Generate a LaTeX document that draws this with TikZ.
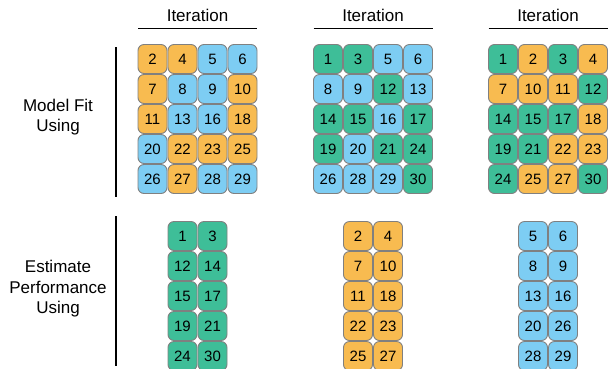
\documentclass[tikz,border=0pt]{standalone}
\usepackage{fontspec}
\setmainfont{Liberation Sans}
\usepackage{xcolor}
\usepackage{tikz}
\usetikzlibrary{positioning}

\definecolor{tileO}{RGB}{248,187,80}
\definecolor{tileB}{RGB}{125,205,243}
\definecolor{tileG}{RGB}{62,190,152}
\definecolor{tileedge}{RGB}{128,128,128}

\begin{document}
\begin{tikzpicture}[
  x=1pt, y=-1pt,
  tile/.style={rectangle, draw=tileedge, line width=0.9pt, rounded corners=6pt, minimum size=29pt, inner sep=0pt, font=\fontsize{15}{15}\selectfont},
  head/.style={font=\fontsize{17}{17}\selectfont},
  side/.style={align=center, font=\fontsize{17}{20.5}\selectfont},
  rule/.style={line width=0.8pt},
  bar/.style={line width=1.2pt}
]
  \useasboundingbox (0,0) rectangle (608,368);

  % headings
  \foreach \k/\dx in {A/0, B/175.5, C/350.5} {
    \node[head] (head\k) at (197.5+\dx, 15) {Iteration};
    \coordinate (ruleL\k) at (138+\dx, 28.5);
    \coordinate (ruleR\k) at (257+\dx, 28.5);
    \draw[rule] (ruleL\k) -- (ruleR\k);
  }

  % row labels and bars
  \node[side] (fitlbl) at (58, 117) {Model Fit\\Using};
  \node[side] (estlbl) at (58, 289) {Estimate\\Performance\\Using};
  \draw[bar] (116, 47) -- (116, 197);
  \draw[bar] (116, 216) -- (116, 366);

  % model fit grids
  \foreach \n/\c [count=\i from 0] in {2/O,4/O,5/B,6/B, 7/O,8/B,9/B,10/O, 11/O,13/B,16/B,18/O, 20/B,22/O,23/O,25/O, 26/B,27/O,28/B,29/B} {
    \pgfmathtruncatemacro\col{mod(\i,4)}
    \pgfmathtruncatemacro\row{\i/4}
    \node[tile, fill=tile\c] (fitA\n) at (152.5+30*\col, 59+30*\row) {\n};
  }
  \foreach \n/\c [count=\i from 0] in {1/G,3/G,5/B,6/B, 8/B,9/B,12/G,13/B, 14/G,15/G,16/B,17/G, 19/G,20/B,21/G,24/G, 26/B,28/B,29/B,30/G} {
    \pgfmathtruncatemacro\col{mod(\i,4)}
    \pgfmathtruncatemacro\row{\i/4}
    \node[tile, fill=tile\c] (fitB\n) at (328+30*\col, 59+30*\row) {\n};
  }
  \foreach \n/\c [count=\i from 0] in {1/G,2/O,3/G,4/O, 7/O,10/O,11/O,12/G, 14/G,15/G,17/G,18/O, 19/G,21/G,22/O,23/O, 24/G,25/O,27/O,30/G} {
    \pgfmathtruncatemacro\col{mod(\i,4)}
    \pgfmathtruncatemacro\row{\i/4}
    \node[tile, fill=tile\c] (fitC\n) at (503+30*\col, 59+30*\row) {\n};
  }

  % estimate grids
  \foreach \k/\dx/\c/\nums in {A/0/G/{1,3,12,14,15,17,19,21,24,30}, B/175.5/O/{2,4,7,10,11,18,22,23,25,27}, C/350.5/B/{5,6,8,9,13,16,20,26,28,29}} {
    \foreach \n [count=\i from 0] in \nums {
      \pgfmathtruncatemacro\col{mod(\i,2)}
      \pgfmathtruncatemacro\row{\i/2}
      \node[tile, fill=tile\c] (est\k\n) at (182.5+\dx+30*\col, 236+30*\row) {\n};
    }
  }
\end{tikzpicture}
\end{document}
